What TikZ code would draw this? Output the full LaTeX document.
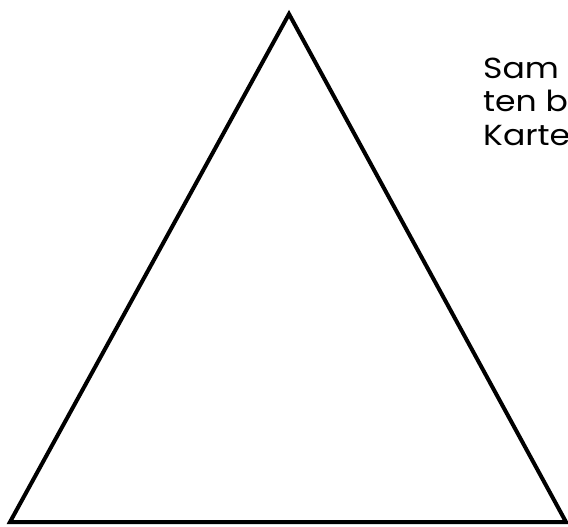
\documentclass[tikz,border=0pt]{standalone}
\usepackage{fontspec}
\setmainfont{Poppins}[FakeStretch=1.14]
\begin{document}
\begin{tikzpicture}[x=1pt,y=-1pt,
  tri/.style={draw=black,line width=4pt,line join=miter},
  lbl/.style={anchor=base west,inner sep=0pt,font=\fontsize{29}{33}\selectfont}]
\useasboundingbox (0,0) rectangle (568,527);
\clip (0,0) rectangle (568,527);
\coordinate (top) at (289,14);
\coordinate (bl) at (10,522);
\coordinate (br) at (566,522);
\draw[tri] (top) -- (bl) -- (br) -- cycle;
\node[lbl] (l1) at (483,78) {Sam};
\node[lbl] (l2) at (483,111.5) {ten b};
\node[lbl] (l3) at (483,145) {Karte};
\end{tikzpicture}
\end{document}
